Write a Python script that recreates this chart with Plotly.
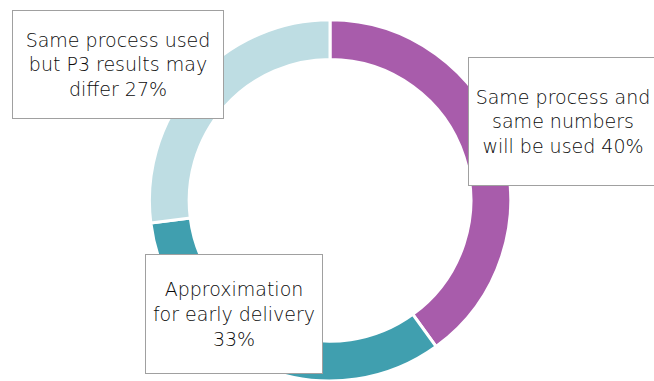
import plotly.graph_objects as go

# Survey breakdown shown as a donut, slices clockwise from 12 o'clock
labels = [
    "Same process and same numbers will be used",
    "Approximation for early delivery",
    "Same process used but P3 results may differ",
]
shares = [40, 33, 27]
colors = ["#A85CAB", "#409FAF", "#BEDDE3"]

# Callout texts (line breaks as laid out in the boxes)
callouts = [
    "Same process and<br>same numbers<br>will be used {}%",
    "Approximation<br>for early delivery<br>{}%",
    "Same process used<br>but P3 results may<br>differ {}%",
]

W, H = 654, 381

fig = go.Figure(
    go.Pie(
        labels=labels,
        values=shares,
        hole=0.78,
        sort=False,
        direction="clockwise",
        rotation=0,
        textinfo="none",
        hoverinfo="label+percent",
        marker=dict(colors=colors, line=dict(color="white", width=3)),
        domain=dict(x=[0.0092, 1.0], y=[0.0, 0.948]),
        showlegend=False,
    )
)

# Boxed callouts: (left px, top px, width px, height px)
boxes = [
    (468, 57, 190, 129),
    (145, 254, 178, 120),
    (12, 10, 212, 109),
]

font = dict(family="DejaVu Sans", size=19, color="#0a0a0a", weight=300)
for (left, top, bw, bh), txt, val in zip(boxes, callouts, shares):
    fig.add_annotation(
        x=left / W,
        y=1 - top / H,
        xref="paper",
        yref="paper",
        xanchor="left",
        yanchor="top",
        text=txt.format(val),
        showarrow=False,
        align="center",
        valign="middle",
        width=bw - 2,
        height=bh - 2,
        bgcolor="white",
        bordercolor="#A0A0A0",
        borderwidth=1,
        borderpad=0,
        font=font,
    )

fig.update_layout(
    width=W,
    height=H,
    margin=dict(l=0, r=0, t=0, b=0),
    paper_bgcolor="white",
    plot_bgcolor="white",
)

fig.write_html("out.html")
